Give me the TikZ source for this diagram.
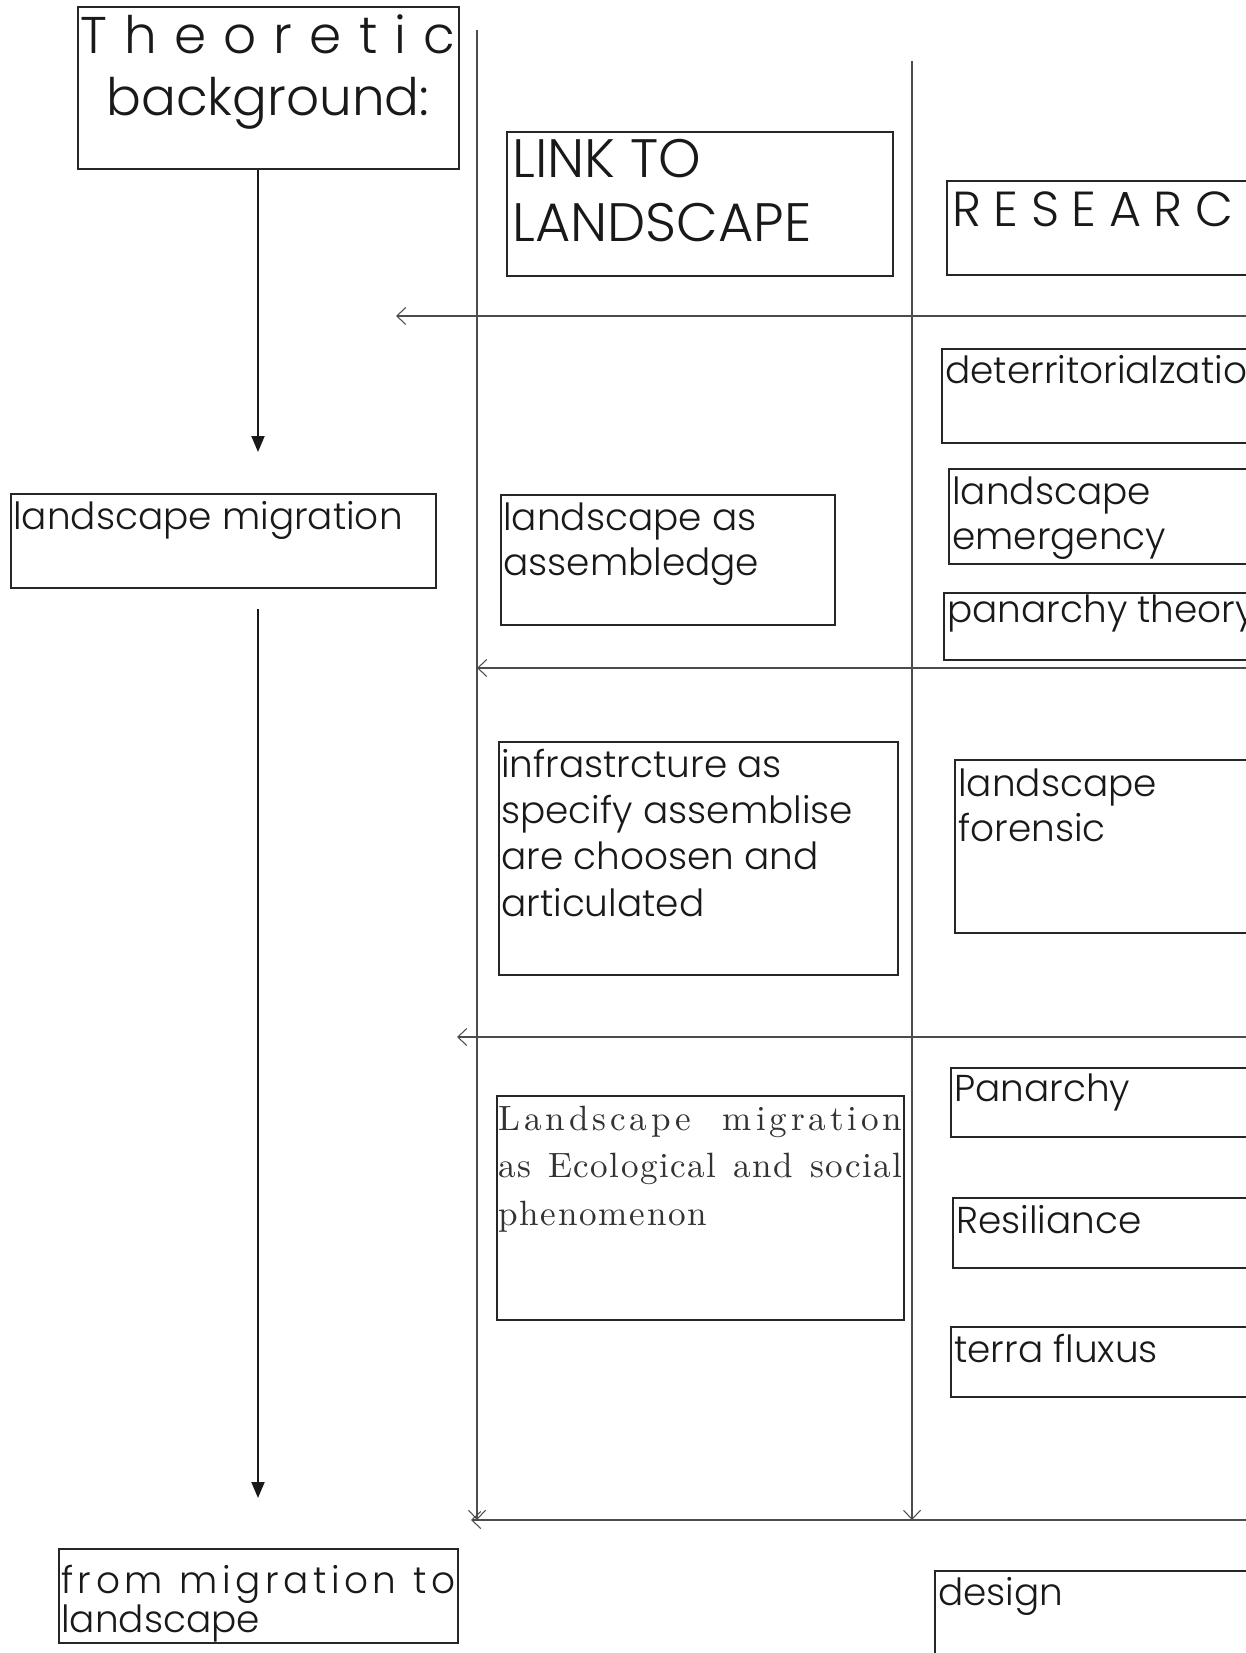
\documentclass[tikz,border=0pt]{standalone}
\usepackage{fontspec}
\newfontfamily\gothic{Poppins}[UprightFont=* Light]
\newfontfamily\ecofont{lmroman10-regular}[Extension=.otf]
\usetikzlibrary{arrows.meta, fit, positioning}
\newlength\pxu
\setlength\pxu{0.02cm}
\newcommand\spread[2]{\makebox[#1\pxu][s]{#2}}

\begin{document}
\begin{tikzpicture}[
    x=0.02cm, y=-0.02cm,
    box/.style={draw=black!85, line width=1.1pt, inner sep=0pt},
    txt/.style={anchor=base west, inner sep=0pt, align=left, text=black!90, font=\gothic\fontsize{21.3}{25.5}\selectfont},
    big/.style={txt, font=\gothic\fontsize{29.4}{35}\selectfont},
    grid/.style={draw=black!70, line width=0.6pt, -{Straight Barb[length=0.18cm, width=0.34cm]}},
    flow/.style={draw=black!90, line width=1.1pt, -{Triangle[length=0.32cm, width=0.26cm]}}
]
    \clip (0,0) rectangle (1246,1653);

    % Column lines and row lines
    \coordinate (v1top) at (477,30);
    \coordinate (v1bot) at (477,1520);
    \coordinate (v2top) at (912,61);
    \coordinate (v2bot) at (912,1520);
    \coordinate (h1r) at (1260,316);
    \coordinate (h1l) at (396,316);
    \coordinate (h2r) at (1260,668);
    \coordinate (h2l) at (477,668);
    \coordinate (h3r) at (1260,1037);
    \coordinate (h3l) at (457,1037);
    \coordinate (h4r) at (1260,1520);
    \coordinate (h4l) at (471,1520);
    \draw[grid] (v1top) -- (v1bot);
    \draw[grid] (v2top) -- (v2bot);
    \draw[grid] (h1r) -- (h1l);
    \draw[grid] (h2r) -- (h2l);
    \draw[grid] (h3r) -- (h3l);
    \draw[grid] (h4r) -- (h4l);

    % Left column (multi-line texts sit on their last baseline)
    \node[box, fit={(78,7) (459,169)}] (theo) {};
    \node[big, align=center] (theot) at (80,115) {\spread{375}{T\hfill h\hfill e\hfill o\hfill r\hfill e\hfill t\hfill i\hfill c}\\background:};
    \node[box, fit={(11,494) (436,588)}] (lmig) {};
    \node[txt] (lmigt) at (13,529) {landscape migration};
    \node[box, fit={(59,1549) (458,1643)}] (frm) {};
    \node[txt, font=\gothic\fontsize{21.3}{22}\selectfont] (frmt) at (61,1632) {\spread{394}{\addfontfeature{LetterSpace=12}from migration to}\\landscape};

    % Link to landscape column
    \node[box, fit={(507,132) (893,276)}] (link) {};
    \node[txt, font=\gothic\fontsize{30.8}{36}\selectfont] (linkt) at (512,241) {LINK TO\\LANDSCAPE};
    \node[box, fit={(501,495) (835,625)}] (lasm) {};
    \node[txt] (lasmt) at (503,575) {landscape as\\assembledge};
    \node[box, fit={(499,742) (898,975)}] (infra) {};
    \node[txt, font=\gothic\fontsize{21.3}{26.2}\selectfont] (infrat) at (501,916) {infrastrcture as\\specify assemblise\\are choosen and\\articulated};
    \node[box, fit={(497,1096) (904,1320)}] (eco) {};
    \node[txt, text=black!80, font=\ecofont\fontsize{20}{26.8}\selectfont] (ecot) at (498,1225) {\spread{404}{\addfontfeature{LetterSpace=11}Landscape migration}\\\spread{404}{\addfontfeature{LetterSpace=4}as Ecological and social}\\\addfontfeature{LetterSpace=5}phenomenon};

    % Research column
    \node[box, fit={(947,181) (1260,275)}] (res) {};
    \node[txt, font=\gothic\fontsize{28}{32}\selectfont] (rest) at (952,226) {\spread{281}{R\hfill E\hfill S\hfill E\hfill A\hfill R\hfill C}};
    \node[box, fit={(942,349) (1260,443)}] (deter) {};
    \node[txt] (detert) at (945,383) {deterritorialzatio};
    \node[box, fit={(949,469) (1260,564)}] (emerg) {};
    \node[txt] (emergt) at (952,549) {landscape\\emergency};
    \node[box, fit={(944,593) (1260,660)}] (pan) {};
    \node[txt] (pant) at (947,622) {panarchy theory};
    \node[box, fit={(955,760) (1260,933)}] (foren) {};
    \node[txt] (forent) at (958,841) {landscape\\forensic};
    \node[box, fit={(951,1068) (1260,1137)}] (panar) {};
    \node[txt] (panart) at (954,1101) {Panarchy};
    \node[box, fit={(953,1198) (1260,1268)}] (resil) {};
    \node[txt] (resilt) at (956,1233) {Resiliance};
    \node[box, fit={(951,1327) (1260,1397)}] (terra) {};
    \node[txt] (terrat) at (954,1362) {terra fluxus};
    \node[box, fit={(935,1571) (1260,1680)}] (design) {};
    \node[txt] (designt) at (938,1605) {design};

    % Flow arrows
    \coordinate (a1end) at (258,452);
    \coordinate (a2start) at (258,609);
    \coordinate (a2end) at (258,1498);
    \draw[flow] (theo.south -| a1end) -- (a1end);
    \draw[flow] (a2start) -- (a2end);
\end{tikzpicture}
\end{document}
